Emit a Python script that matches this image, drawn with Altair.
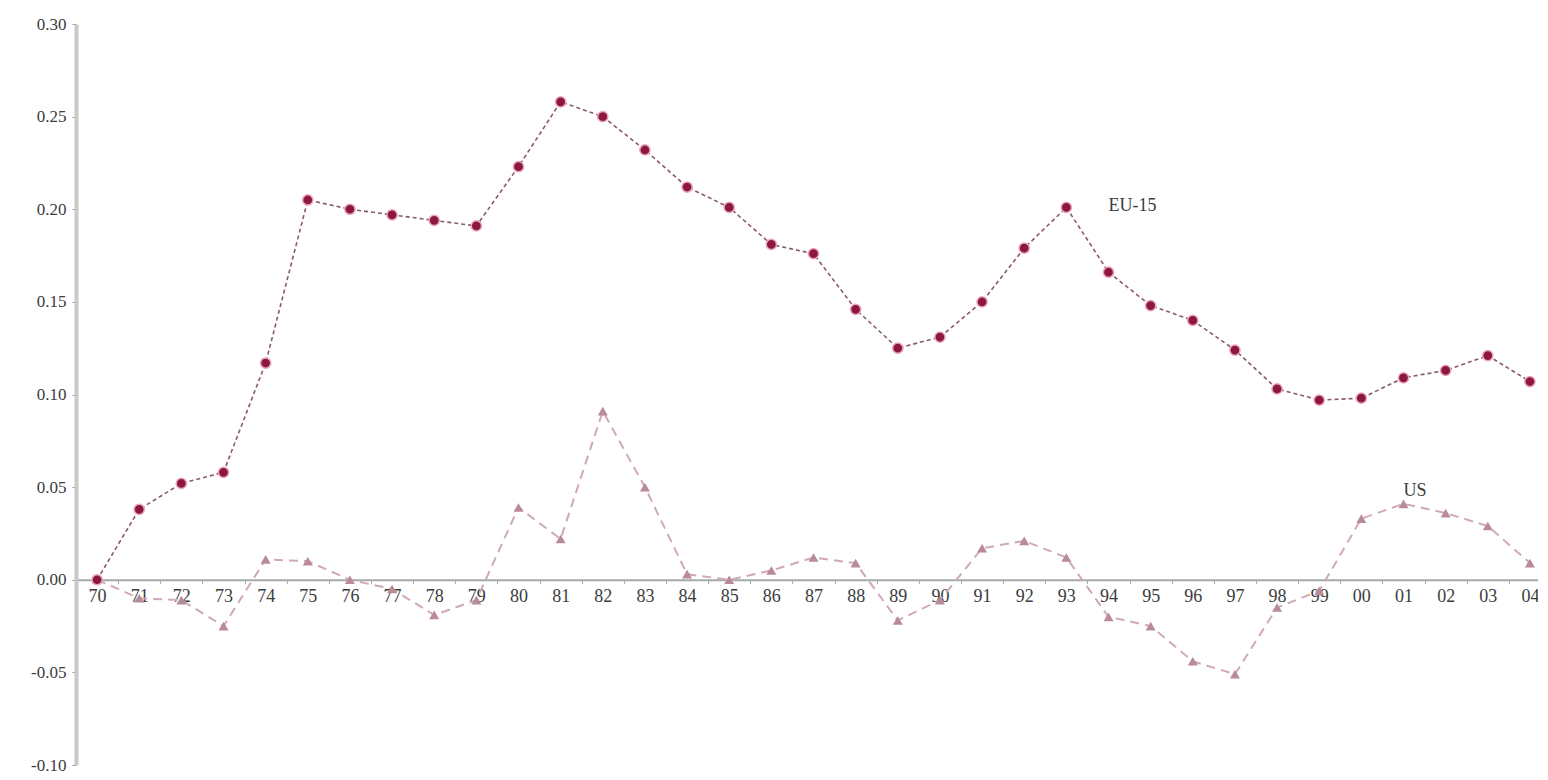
import altair as alt
import pandas as pd

years = ["70", "71", "72", "73", "74", "75", "76", "77", "78", "79",
         "80", "81", "82", "83", "84", "85", "86", "87", "88", "89",
         "90", "91", "92", "93", "94", "95", "96", "97", "98", "99",
         "00", "01", "02", "03", "04"]
eu15 = [0.000, 0.038, 0.052, 0.058, 0.117, 0.205, 0.200, 0.197, 0.194, 0.191,
        0.223, 0.258, 0.250, 0.232, 0.212, 0.201, 0.181, 0.176, 0.146, 0.125,
        0.131, 0.150, 0.179, 0.201, 0.166, 0.148, 0.140, 0.124, 0.103, 0.097,
        0.098, 0.109, 0.113, 0.121, 0.107]
us = [0.000, -0.010, -0.011, -0.025, 0.011, 0.010, 0.000, -0.005, -0.019, -0.011,
      0.039, 0.022, 0.091, 0.050, 0.003, 0.000, 0.005, 0.012, 0.009, -0.022,
      -0.011, 0.017, 0.021, 0.012, -0.020, -0.025, -0.044, -0.051, -0.015, -0.006,
      0.033, 0.041, 0.036, 0.029, 0.009]
y_ticks = [-0.10, -0.05, 0.00, 0.05, 0.10, 0.15, 0.20, 0.25, 0.30]

label_text = ["EU-15", "US"]
label_year = ["94", "01"]
label_value = [0.202, 0.048]

df_eu = pd.DataFrame({"year": years, "value": eu15})
df_us = pd.DataFrame({"year": years, "value": us})
df_lab = pd.DataFrame({"year": label_year, "value": label_value, "text": label_text})

H = 741
W = 1462
SERIF = "Liberation Serif"

xscale = alt.Scale(type="band", domain=years, range=[0, 1475], paddingInner=0, paddingOuter=0)
yscale = alt.Scale(domain=[-0.10, 0.30], nice=False, zero=False)

xaxis = alt.Axis(title=None, offset=-H / 4, tickBand="extent", domainColor="#a3aaa8",
                 domainWidth=2, tickColor="#a3aaa8", tickSize=4, labelAngle=0, grid=False,
                 labelFont=SERIF, labelFontSize=18, labelColor="#3c3c3c", labelPadding=4)
yaxis = alt.Axis(title=None, values=y_ticks, format=".2f", domainColor="#c9c9c9",
                 labelExpr="replace(datum.label, '\u2212', '-')",
                 domainWidth=4, tickColor="#999999", tickSize=4, grid=False,
                 labelFont=SERIF, labelFontSize=17, labelColor="#3c3c3c", labelPadding=6)

x_enc = alt.X("year:N", scale=xscale, axis=xaxis, sort=years)
y_enc = alt.Y("value:Q", scale=yscale, axis=yaxis)

us_line = alt.Chart(df_us).mark_line(color="#cfaab4", strokeWidth=2, strokeDash=[9, 6]).encode(
    x=x_enc, y=y_enc)
us_pts = alt.Chart(df_us).mark_point(shape="triangle-up", filled=True, size=100,
                                     color="#b98a98", opacity=1).encode(x=x_enc, y=y_enc)
eu_line = alt.Chart(df_eu).mark_line(color="#8a5a68", strokeWidth=1.6, strokeDash=[4, 3]).encode(
    x=x_enc, y=y_enc)
eu_pts = alt.Chart(df_eu).mark_circle(size=105, color="#8c1840", opacity=1,
                                      stroke="#eaa6bc", strokeWidth=1.5).encode(x=x_enc, y=y_enc)
labels = alt.Chart(df_lab).mark_text(font=SERIF, fontSize=18, color="#3c3c3c", align="left",
                                     baseline="middle").encode(x=x_enc, y=y_enc, text="text:N")

chart = alt.layer(us_line, us_pts, eu_line, eu_pts, labels).properties(
    width=W, height=H,
    background="white",
    autosize=alt.AutoSizeParams(type="none"),
    padding={"left": 68, "top": 16, "right": 0, "bottom": 10},
).configure_view(stroke=None).configure_axis(labelFont=SERIF)

chart.save("out.html", embed_options={"renderer": "svg", "actions": False})
